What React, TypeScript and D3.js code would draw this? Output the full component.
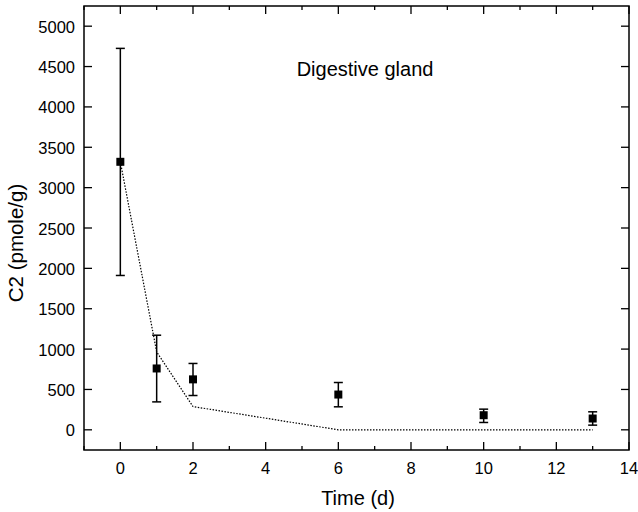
import * as d3 from 'd3'
import React, { useEffect, useRef } from 'react'

// measured points (mean with error bars)
const times = [0, 1, 2, 6, 10, 13]
const means = [3320, 760, 625, 437, 181, 140]
const errUpper = [4725, 1172, 822, 586, 256, 223]
const errLower = [1912, 346, 425, 285, 91, 58]
// model curve (dotted)
const fitTimes = [0, 1, 2, 6, 10, 13]
const fitValues = [3320, 965, 288, 0, 0, 0]

const xTicks = [0, 2, 4, 6, 8, 10, 12, 14]
const xMinor = [-1, 1, 3, 5, 7, 9, 11, 13]
const yTicks = [0, 500, 1000, 1500, 2000, 2500, 3000, 3500, 4000, 4500, 5000]

export default function App() {
  const ref = useRef<SVGSVGElement>(null)

  useEffect(() => {
    const width = 638, height = 512
    const margin = { top: 6, right: 9, bottom: 62, left: 84 }
    const svg = d3.select(ref.current)
    svg.selectAll('*').remove()

    const x = d3.scaleLinear().domain([-1, 14]).range([margin.left, width - margin.right])
    const y = d3.scaleLinear().domain([-250, 5250]).range([height - margin.bottom, margin.top])
    const font = 'Liberation Sans, Arial, sans-serif'

    const [x0, x1] = x.range()
    const [y0, y1] = y.range()

    const ax = svg.append('g').attr('stroke', '#000').attr('stroke-width', 1.3)
    // ticks inward on all four sides
    xTicks.forEach(t => {
      ax.append('line').attr('x1', x(t)).attr('x2', x(t)).attr('y1', y0).attr('y2', y0 - 8)
      ax.append('line').attr('x1', x(t)).attr('x2', x(t)).attr('y1', y1).attr('y2', y1 + 8)
    })
    xMinor.forEach(t => {
      ax.append('line').attr('x1', x(t)).attr('x2', x(t)).attr('y1', y0).attr('y2', y0 - 4)
      ax.append('line').attr('x1', x(t)).attr('x2', x(t)).attr('y1', y1).attr('y2', y1 + 4)
    })
    yTicks.forEach(t => {
      ax.append('line').attr('x1', x0).attr('x2', x0 + 8).attr('y1', y(t)).attr('y2', y(t))
      ax.append('line').attr('x1', x1).attr('x2', x1 - 8).attr('y1', y(t)).attr('y2', y(t))
    })
    svg.append('rect')
      .attr('x', x0).attr('y', y1).attr('width', x1 - x0).attr('height', y0 - y1)
      .attr('fill', 'none').attr('stroke', '#000').attr('stroke-width', 1.5)

    svg.append('g').attr('font-family', font).attr('font-size', 16.5).attr('text-anchor', 'middle')
      .selectAll('text').data(xTicks).join('text')
      .attr('x', d => x(d)).attr('y', y0 + 23.5).text(d => d)

    svg.append('g').attr('font-family', font).attr('font-size', 16.5).attr('text-anchor', 'end')
      .selectAll('text').data(yTicks).join('text')
      .attr('x', x0 - 9).attr('y', d => y(d) + 6.5).text(d => d)

    svg.append('text').attr('font-family', font).attr('font-size', 20).attr('text-anchor', 'middle')
      .attr('x', 358).attr('y', 504.5).text('Time (d)')
    svg.append('text').attr('font-family', font).attr('font-size', 20.5).attr('text-anchor', 'middle')
      .attr('transform', `translate(23,243) rotate(-90)`).text('C2 (pmole/g)')
    svg.append('text').attr('font-family', font).attr('font-size', 20).attr('text-anchor', 'middle')
      .attr('x', 365).attr('y', 76).text('Digestive gland')

    // dotted fit
    const line = d3.line<number>().x((d, i) => x(fitTimes[i])).y(d => y(d))
    svg.append('path').datum(fitValues).attr('d', line)
      .attr('fill', 'none').attr('stroke', '#000').attr('stroke-width', 1.2).attr('stroke-dasharray', '1.5,1.5')

    // error bars
    const eb = svg.append('g').attr('stroke', '#000').attr('stroke-width', 1.5)
    times.forEach((t, i) => {
      eb.append('line').attr('x1', x(t)).attr('x2', x(t)).attr('y1', y(errLower[i])).attr('y2', y(errUpper[i]))
      eb.append('line').attr('x1', x(t) - 4.5).attr('x2', x(t) + 4.5).attr('y1', y(errLower[i])).attr('y2', y(errLower[i]))
      eb.append('line').attr('x1', x(t) - 4.5).attr('x2', x(t) + 4.5).attr('y1', y(errUpper[i])).attr('y2', y(errUpper[i]))
    })

    svg.append('g').selectAll('rect').data(times).join('rect')
      .attr('x', d => x(d) - 4).attr('y', (d, i) => y(means[i]) - 4)
      .attr('width', 8).attr('height', 8).attr('fill', '#000')
  }, [])

  return (
    <div style={{ position: 'absolute', left: 0, top: 0 }}>
      <svg ref={ref} width={638} height={512} style={{ display: 'block', background: '#fff' }} />
    </div>
  )
}
